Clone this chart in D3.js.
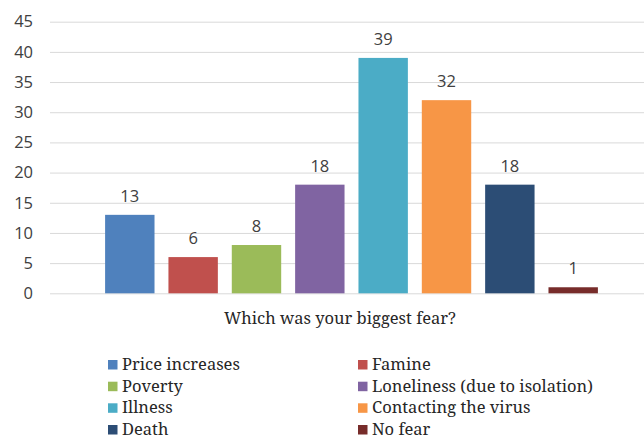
<!DOCTYPE html>
<html>
<head>
<meta charset="utf-8">
<script src="https://cdn.jsdelivr.net/npm/d3@7"></script>
<style>
  html, body { margin: 0; padding: 0; background: #fff; }
  svg { display: block; }
</style>
</head>
<body>
<svg id="chart" width="644" height="439"></svg>
<script>
// Survey answers: "Which was your biggest fear?"
const categories = [
  "Price increases", "Famine", "Poverty", "Loneliness (due to isolation)",
  "Illness", "Contacting the virus", "Death", "No fear"
];
const values = [13, 6, 8, 18, 39, 32, 18, 1];
const colors = ["#4F81BD", "#C0504D", "#9BBB59", "#8064A2",
                "#4BACC6", "#F79646", "#2C4D75", "#772C2A"];
const yTicks = [0, 5, 10, 15, 20, 25, 30, 35, 40, 45];
const axisTitle = "Which was your biggest fear?";

const svg = d3.select("#chart");
const numFont = '"Open Sans", "Liberation Sans", sans-serif';
const serifFont = '"Noto Serif", "DejaVu Serif", serif';

const plot = { left: 50, right: 653, top: 21.7, bottom: 293.3 };

const y = d3.scaleLinear().domain([0, 45]).range([plot.bottom, plot.top]);
const x = d3.scaleBand().domain(categories)
  .range([plot.left, plot.right])
  .paddingInner(0.22).paddingOuter(0.87);

// Horizontal gridlines with tick labels
const yAxis = d3.axisLeft(y).tickValues(yTicks)
  .tickSize(-(644 - plot.left)).tickPadding(17);
const gy = svg.append("g")
  .attr("transform", `translate(${plot.left},0)`)
  .call(yAxis);
gy.select(".domain").remove();
gy.selectAll(".tick line").attr("stroke", "#d9d9d9").attr("stroke-width", 1);
gy.selectAll(".tick text")
  .attr("fill", "#404040")
  .attr("font-family", numFont)
  .attr("font-size", 16.5);

// Bars
svg.append("g").selectAll("rect")
  .data(categories)
  .join("rect")
  .attr("x", d => x(d))
  .attr("width", x.bandwidth())
  .attr("y", (d, i) => y(values[i]))
  .attr("height", (d, i) => y(0) - y(values[i]))
  .attr("fill", (d, i) => colors[i]);

// Value labels above bars
svg.append("g").selectAll("text")
  .data(categories)
  .join("text")
  .attr("x", d => x(d) + x.bandwidth() / 2)
  .attr("y", (d, i) => y(values[i]) - 13)
  .attr("text-anchor", "middle")
  .attr("fill", "#404040")
  .attr("font-family", numFont)
  .attr("font-size", 16.5)
  .text((d, i) => values[i]);

// Axis title
svg.append("text")
  .attr("x", 340)
  .attr("y", 323.5)
  .attr("text-anchor", "middle")
  .attr("fill", "#262626")
  .attr("font-family", serifFont)
  .attr("font-size", 16.5)
  .text(axisTitle);

// Legend, two columns
const legendCols = [108, 358];
const legendRows = [370, 391.7, 413.3, 435];
const legend = svg.append("g").selectAll("g")
  .data(categories)
  .join("g")
  .attr("transform", (d, i) => `translate(${legendCols[i % 2]},${legendRows[Math.floor(i / 2)]})`);
legend.append("rect")
  .attr("x", 0).attr("y", -10).attr("width", 9.5).attr("height", 9.5)
  .attr("fill", (d, i) => colors[i]);
legend.append("text")
  .attr("x", 14).attr("y", 0)
  .attr("fill", "#262626")
  .attr("font-family", serifFont)
  .attr("font-size", 16.5)
  .text(d => d);
</script>
</body>
</html>
